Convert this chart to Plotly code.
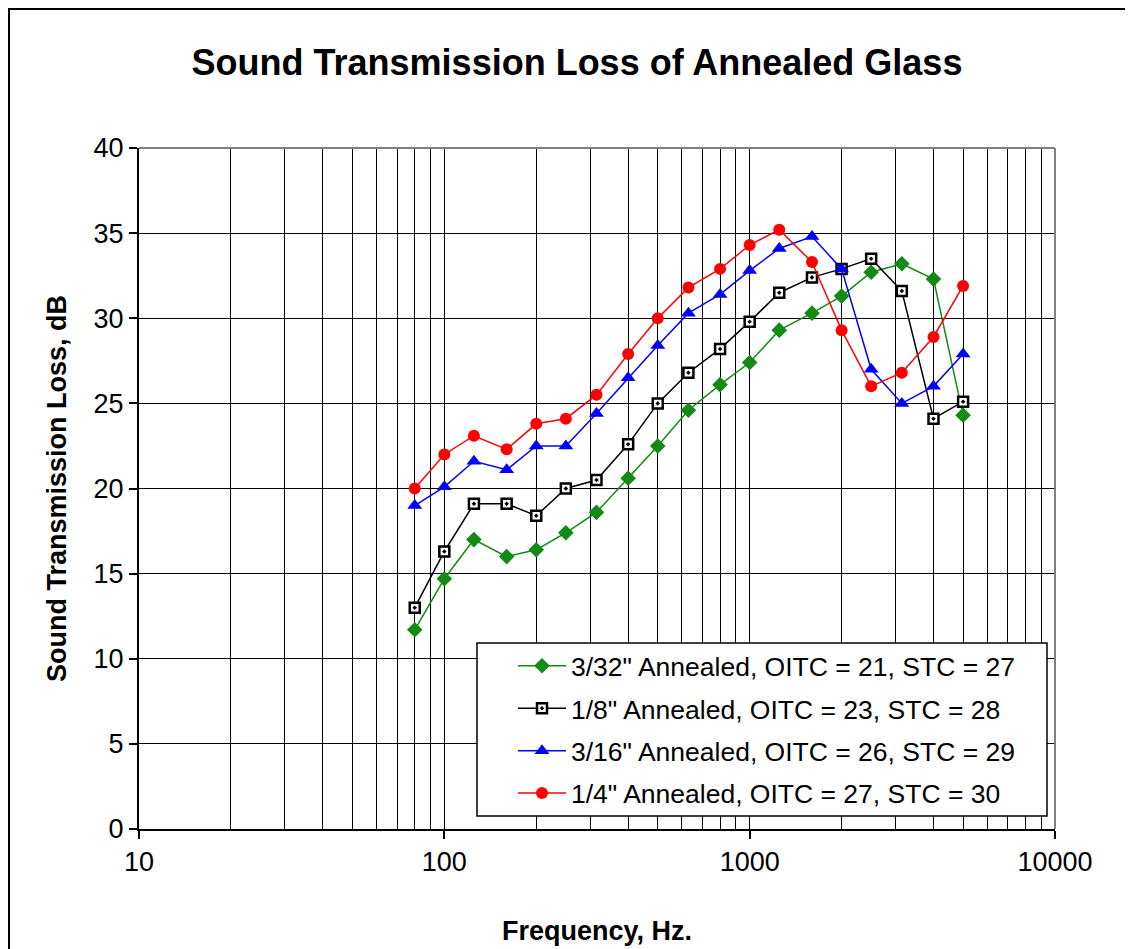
import plotly.graph_objects as go

freq = [80, 100, 125, 160, 200, 250, 315, 400, 500, 630, 800, 1000, 1250, 1600, 2000, 2500, 3150, 4000, 5000]

stl_3_32 = [11.7, 14.7, 17.0, 16.0, 16.4, 17.4, 18.6, 20.6, 22.5, 24.6, 26.1, 27.4, 29.3, 30.3, 31.3, 32.7, 33.2, 32.3, 24.3]
stl_1_8 = [13.0, 16.3, 19.1, 19.1, 18.4, 20.0, 20.5, 22.6, 25.0, 26.8, 28.2, 29.8, 31.5, 32.4, 32.9, 33.5, 31.6, 24.1, 25.1]
stl_3_16 = [19.0, 20.1, 21.6, 21.1, 22.5, 22.5, 24.4, 26.5, 28.4, 30.3, 31.4, 32.8, 34.1, 34.8, 32.9, 27.0, 25.0, 26.0, 27.9]
stl_1_4 = [20.0, 22.0, 23.1, 22.3, 23.8, 24.1, 25.5, 27.9, 30.0, 31.8, 32.9, 34.3, 35.2, 33.3, 29.3, 26.0, 26.8, 28.9, 31.9]

names = [
    '3/32" Annealed, OITC = 21, STC = 27',
    '1/8" Annealed, OITC = 23, STC = 28',
    '3/16" Annealed, OITC = 26, STC = 29',
    '1/4" Annealed, OITC = 27, STC = 30',
]

x_major = [10, 100, 1000, 10000]
x_minor = [20, 30, 40, 50, 60, 70, 80, 90, 200, 300, 400, 500, 600, 700, 800, 900,
           2000, 3000, 4000, 5000, 6000, 7000, 8000, 9000]
y_ticks = [0, 5, 10, 15, 20, 25, 30, 35, 40]

FONT = "Arial, Liberation Sans, sans-serif"

fig = go.Figure()

fig.add_trace(go.Scatter(
    x=freq, y=stl_3_32, name=names[0], mode="lines+markers", legendgroup="a",
    line=dict(color="#138a13", width=1.5),
    marker=dict(symbol="diamond", size=12, color="#138a13"),
))
fig.add_trace(go.Scatter(
    x=freq, y=stl_1_8, name=names[1], mode="lines+markers", legendgroup="b",
    line=dict(color="black", width=1.5),
    marker=dict(symbol="square-dot", size=10, color="white", line=dict(color="black", width=2.5)),
))
fig.add_trace(go.Scatter(
    x=freq, y=stl_3_16, name=names[2], mode="lines+markers", legendgroup="c",
    line=dict(color="#0000ff", width=1.5),
    marker=dict(symbol="triangle-up", size=13, color="#0000ff"),
))
fig.add_trace(go.Scatter(
    x=freq, y=stl_1_4, name=names[3], mode="lines+markers", legendgroup="d",
    line=dict(color="#ff0000", width=1.5),
    marker=dict(symbol="circle", size=12, color="#ff0000"),
))

# page body has an 8px margin; work in screen pixels and convert
OFF = 8
W, H = 1133 - OFF, 949 - OFF
L, R, T, B = 139, 1055, 148, 829
pw, ph = R - L, B - T


def px(x):
    return (x - L) / pw


def py(y):
    return (B - y) / ph


fig.update_layout(
    width=W, height=H,
    margin=dict(l=L - OFF, r=W - (R - OFF), t=T - OFF, b=H - (B - OFF)),
    paper_bgcolor="white", plot_bgcolor="white",
    font=dict(family=FONT, color="black", size=26),
    title=dict(text="<b>Sound Transmission Loss of Annealed Glass</b>",
               x=(577 - OFF) / W, xanchor="center", xref="container",
               y=1 - (62 - OFF) / H, yanchor="middle", yref="container",
               font=dict(size=36, family=FONT, color="black")),
    xaxis=dict(
        type="log", range=[1, 4], automargin=False,
        tickvals=x_major, ticktext=[str(v) for v in x_major],
        ticks="outside", ticklen=8, tickwidth=2, tickcolor="black",
        showline=True, linecolor="black", linewidth=2,
        showgrid=True, gridcolor="black", gridwidth=1,
        minor=dict(tickvals=x_minor, showgrid=True, gridcolor="black", gridwidth=1, ticks=""),
        tickfont=dict(size=27),
        title=dict(text="<b>Frequency, Hz.</b>", font=dict(size=27), standoff=45),
        zeroline=False,
    ),
    yaxis=dict(
        range=[0, 40], tickvals=y_ticks,
        ticks="outside", ticklen=8, tickwidth=2, tickcolor="black",
        showline=True, linecolor="black", linewidth=2,
        showgrid=True, gridcolor="black", gridwidth=1,
        tickfont=dict(size=27),
        title=dict(text="<b>Sound Transmission Loss, dB</b>", font=dict(size=27), standoff=19),
        zeroline=False,
    ),
    legend=dict(
        x=px(513), xanchor="left", y=py(642), yanchor="top",
        bgcolor="rgba(0,0,0,0)", borderwidth=0,
        font=dict(size=26.5, family=FONT), tracegroupgap=5,
        itemwidth=48,
    ),
    showlegend=True,
)

# gray plot border on top and right
fig.add_shape(type="line", xref="paper", yref="paper", x0=0, x1=1, y0=1, y1=1,
              line=dict(color="#808080", width=2), layer="above")
fig.add_shape(type="line", xref="paper", yref="paper", x0=1, x1=1, y0=0, y1=1,
              line=dict(color="#808080", width=2), layer="above")
# legend frame (opaque, drawn over the grid, under the legend entries)
fig.add_shape(type="rect", xref="paper", yref="paper",
              x0=px(477), x1=px(1047), y0=py(816), y1=py(643),
              fillcolor="white", line=dict(color="black", width=1.5), layer="above")
# outer chart border
fig.add_shape(type="rect", xref="paper", yref="paper",
              x0=px(9), x1=px(1150), y0=py(970), y1=py(9),
              line=dict(color="black", width=2), layer="below")

fig.write_html("out.html")
